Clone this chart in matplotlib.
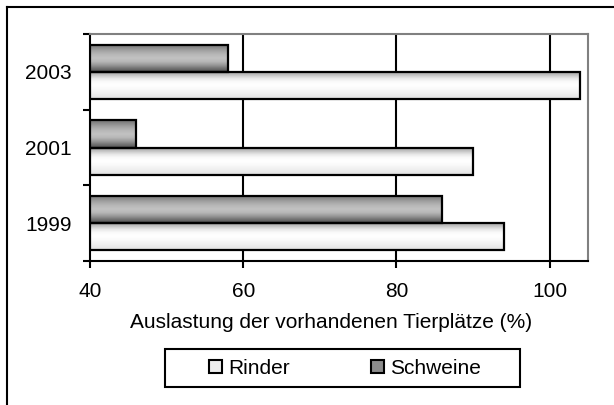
import matplotlib.pyplot as plt
import numpy as np
from matplotlib.patches import Patch, Rectangle
from matplotlib.lines import Line2D

plt.rcParams['font.family'] = ['Liberation Sans', 'DejaVu Sans']

years = ['1999', '2001', '2003']
rinder = [94, 90, 104]
schweine = [86, 46, 58]

fig = plt.figure(figsize=(6.14, 4.05), dpi=100)
ax = fig.add_axes([90 / 614, 1 - 261 / 405, 498 / 614, 227 / 405])

y = np.arange(len(years))
h = 0.36
fs = 15

# vertical gradients for the bars (top -> bottom)
grad_r = np.array([0.62, 0.75, 0.9, 0.98, 1.0, 0.98, 0.95, 0.92, 0.88])
grad_s = np.array([0.45, 0.55, 0.65, 0.72, 0.76, 0.72, 0.6, 0.45, 0.3])


def grad_bar(ax, yc, val, g):
    bars = ax.barh(yc, val - 40, left=40, height=h, facecolor='none',
                   edgecolor='black', linewidth=1.6, zorder=4)
    b = bars[0]
    x0, y0 = b.get_x(), b.get_y()
    img = np.interp(np.linspace(0, 1, 64), np.linspace(0, 1, len(g)), g)[:, None]
    ax.imshow(img, cmap='gray', vmin=0, vmax=1, aspect='auto',
              extent=(x0, x0 + b.get_width(), y0, y0 + b.get_height()),
              origin='upper', zorder=3, interpolation='bilinear')


for i in range(len(years)):
    grad_bar(ax, y[i] + h / 2, schweine[i], grad_s)
    grad_bar(ax, y[i] - h / 2, rinder[i], grad_r)

ax.set_xlim(40, 105)
ax.set_ylim(-0.5, 2.5)
ax.set_xticks([40, 60, 80, 100])
ax.set_yticks(y)
ax.set_yticklabels(years)
ax.set_yticks([-0.5, 0.5, 1.5, 2.5], minor=True)
ax.tick_params(axis='y', which='major', length=0, labelsize=fs, pad=13)
ax.tick_params(axis='y', which='minor', length=5, width=1.5, direction='out')
ax.tick_params(axis='x', length=5, width=1.5, direction='out', labelsize=fs, pad=10)

fig.text(331 / 614, 1 - 328 / 405, 'Auslastung der vorhandenen Tierplätze (%)',
         fontsize=fs, ha='center', va='baseline')

for x in [60, 80, 100]:
    ax.axvline(x, color='black', linewidth=1.5, zorder=1)

ax.spines['left'].set_linewidth(1.5)
ax.spines['bottom'].set_linewidth(1.5)
for s in ['top', 'right']:
    ax.spines[s].set_color('#808080')
    ax.spines[s].set_linewidth(1.5)

# legend box drawn separately, entries placed inside
fig.add_artist(Rectangle((165 / 614, 1 - 387 / 405), 355 / 614, 38 / 405,
                         transform=fig.transFigure, facecolor='white',
                         edgecolor='black', linewidth=1.5))
handles = [Patch(facecolor='#eeeeee', edgecolor='black', linewidth=1.5, label='Rinder'),
           Patch(facecolor='#8c8c8c', edgecolor='black', linewidth=1.5, label='Schweine')]
leg = fig.legend(handles=handles, loc='center', ncol=2,
                 bbox_to_anchor=(345 / 614, 1 - 368 / 405),
                 frameon=False, fontsize=fs,
                 handlelength=0.6, handleheight=0.6, handletextpad=0.3,
                 columnspacing=3.9, borderaxespad=0, borderpad=0)

# outer chart border (only left and top visible)
fig.add_artist(Line2D([7 / 614, 7 / 614], [0, 1 - 7 / 405], color='black', linewidth=1.5))
fig.add_artist(Line2D([7 / 614, 1], [1 - 7 / 405, 1 - 7 / 405], color='black', linewidth=1.5))

fig.savefig('out.png', dpi=100)
